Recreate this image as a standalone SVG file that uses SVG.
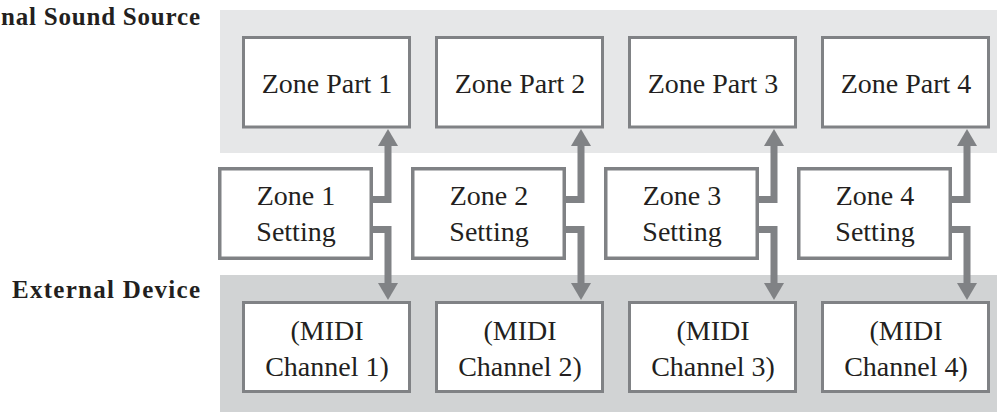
<svg xmlns="http://www.w3.org/2000/svg" width="997" height="412" viewBox="0 0 997 412">
<style>
.band1{fill:#e6e7e8}
.band2{fill:#d1d3d4}
.box{fill:#ffffff;stroke:#808285;stroke-width:3}
.sbox{fill:#ffffff;stroke:#808285;stroke-width:3.5}
.t{font-family:"Liberation Serif","Times New Roman",serif;font-size:28px;fill:#231f20;text-anchor:middle}
.lbl{font-family:"Liberation Serif","Times New Roman",serif;font-size:25px;font-weight:bold;fill:#231f20}
.wire{fill:none;stroke:#808285;stroke-width:7;stroke-linejoin:miter}
.head{fill:#808285}
</style>
<defs>
<polygon id="up" class="head" points="-10,146 10,146 0,129"/>
<polygon id="down" class="head" points="-10,283 10,283 0,300"/>
</defs>

<g id="bands">
<rect class="band1" x="220" y="10" width="777" height="143"/>
<rect class="band2" x="220" y="275" width="777" height="137"/>
</g>

<g id="labels">
<text class="lbl" x="1" y="25" textLength="199" lengthAdjust="spacing">nal Sound Source</text>
<text class="lbl" x="12" y="298" textLength="188" lengthAdjust="spacing">External Device</text>
</g>

<g id="connectors">
<polyline class="wire" points="372,199.5 388,199.5 388,143"/>
<use href="#up" x="388"/>
<polyline class="wire" points="372,229.5 388,229.5 388,286"/>
<use href="#down" x="388"/>

<polyline class="wire" points="565,199.5 581,199.5 581,143"/>
<use href="#up" x="581"/>
<polyline class="wire" points="565,229.5 581,229.5 581,286"/>
<use href="#down" x="581"/>

<polyline class="wire" points="758,199.5 774,199.5 774,143"/>
<use href="#up" x="774"/>
<polyline class="wire" points="758,229.5 774,229.5 774,286"/>
<use href="#down" x="774"/>

<polyline class="wire" points="951,199.5 967,199.5 967,143"/>
<use href="#up" x="967"/>
<polyline class="wire" points="951,229.5 967,229.5 967,286"/>
<use href="#down" x="967"/>
</g>

<g id="zone-part-1">
<rect class="box" x="243.5" y="37.5" width="166" height="89.5"/>
<text class="t" x="327" y="92.5">Zone Part 1</text>
</g>
<g id="zone-part-2">
<rect class="box" x="436.5" y="37.5" width="166" height="89.5"/>
<text class="t" x="520" y="92.5">Zone Part 2</text>
</g>
<g id="zone-part-3">
<rect class="box" x="629.5" y="37.5" width="166" height="89.5"/>
<text class="t" x="713" y="92.5">Zone Part 3</text>
</g>
<g id="zone-part-4">
<rect class="box" x="822.5" y="37.5" width="166" height="89.5"/>
<text class="t" x="906" y="92.5">Zone Part 4</text>
</g>

<g id="zone-1-setting">
<rect class="sbox" x="219.75" y="168.75" width="151.5" height="89.5"/>
<text class="t" x="296" y="205">Zone 1</text>
<text class="t" x="296" y="240.5">Setting</text>
</g>
<g id="zone-2-setting">
<rect class="sbox" x="412.75" y="168.75" width="151.5" height="89.5"/>
<text class="t" x="489" y="205">Zone 2</text>
<text class="t" x="489" y="240.5">Setting</text>
</g>
<g id="zone-3-setting">
<rect class="sbox" x="605.75" y="168.75" width="151.5" height="89.5"/>
<text class="t" x="682" y="205">Zone 3</text>
<text class="t" x="682" y="240.5">Setting</text>
</g>
<g id="zone-4-setting">
<rect class="sbox" x="798.75" y="168.75" width="151.5" height="89.5"/>
<text class="t" x="875" y="205">Zone 4</text>
<text class="t" x="875" y="240.5">Setting</text>
</g>

<g id="midi-channel-1">
<rect class="box" x="243.5" y="302.5" width="166" height="89"/>
<text class="t" x="327" y="340">(MIDI</text>
<text class="t" x="327" y="375.5">Channel 1)</text>
</g>
<g id="midi-channel-2">
<rect class="box" x="436.5" y="302.5" width="166" height="89"/>
<text class="t" x="520" y="340">(MIDI</text>
<text class="t" x="520" y="375.5">Channel 2)</text>
</g>
<g id="midi-channel-3">
<rect class="box" x="629.5" y="302.5" width="166" height="89"/>
<text class="t" x="713" y="340">(MIDI</text>
<text class="t" x="713" y="375.5">Channel 3)</text>
</g>
<g id="midi-channel-4">
<rect class="box" x="822.5" y="302.5" width="166" height="89"/>
<text class="t" x="906" y="340">(MIDI</text>
<text class="t" x="906" y="375.5">Channel 4)</text>
</g>
</svg>
